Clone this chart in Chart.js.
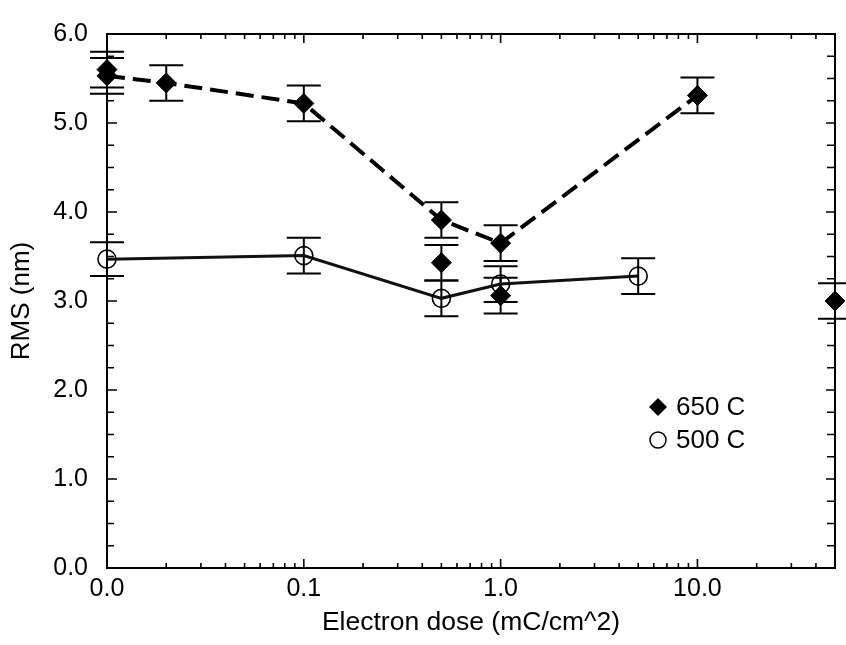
<!DOCTYPE html>
<html lang="en">
<head>
    <meta charset="UTF-8">
    <title>RMS vs electron dose</title>
    <script src="https://cdn.jsdelivr.net/npm/chart.js"></script>
    <style>
        body {
            margin: 0;
            background-color: #ffffff;
        }
        #wrap {
            width: 846px;
            height: 645px;
        }
    </style>
</head>
<body>
    <div id="wrap">
        <canvas id="rms-chart" width="846" height="645"></canvas>
    </div>
    <script>
        // 650 C series joined by the dashed line
        const doses650 = [0.01, 0.02, 0.1, 0.5, 1.0, 10];
        const rms650 = [5.53, 5.45, 5.22, 3.91, 3.65, 5.31];
        const err650 = [0.2, 0.2, 0.2, 0.2, 0.2, 0.2];

        // extra 650 C measurements, not on the line
        const dosesExtra650 = [0.01, 0.5, 1.0, 50];
        const rmsExtra650 = [5.60, 3.43, 3.06, 3.00];
        const errExtra650 = [0.2, 0.2, 0.2, 0.2];

        // 500 C series, solid line
        const doses500 = [0.01, 0.1, 0.5, 1.0, 5.0];
        const rms500 = [3.47, 3.51, 3.03, 3.19, 3.28];
        const err500 = [0.19, 0.2, 0.2, 0.2, 0.2];

        const xTicks = [0.01, 0.1, 1, 10];
        const legendLabels = ['650 C', '500 C'];

        const FONT = "'Liberation Sans', Arial, Helvetica, sans-serif";

        function toPoints(xs, ys) {
            return xs.map((x, i) => ({ x: x, y: ys[i] }));
        }

        // error bars with caps, drawn under the markers
        const errorBars = {
            id: 'errorBars',
            beforeDatasetsDraw(chart) {
                const ctx = chart.ctx;
                const xs = chart.scales.x;
                const ys = chart.scales.y;
                ctx.save();
                ctx.strokeStyle = '#000';
                ctx.lineWidth = 2;
                chart.data.datasets.forEach(ds => {
                    ds.data.forEach((p, i) => {
                        const e = ds.errors[i];
                        const px = xs.getPixelForValue(p.x);
                        const top = ys.getPixelForValue(p.y + e);
                        const bot = ys.getPixelForValue(p.y - e);
                        ctx.beginPath();
                        ctx.moveTo(px, top);
                        ctx.lineTo(px, bot);
                        ctx.moveTo(px - 17, top);
                        ctx.lineTo(px + 17, top);
                        ctx.moveTo(px - 17, bot);
                        ctx.lineTo(px + 17, bot);
                        ctx.stroke();
                    });
                });
                ctx.restore();
            }
        };

        // frame with inward ticks on all four sides
        const frame = {
            id: 'frame',
            beforeDatasetsDraw(chart) {
                const ctx = chart.ctx;
                const a = chart.chartArea;
                const xs = chart.scales.x;
                const ys = chart.scales.y;
                ctx.save();
                ctx.strokeStyle = '#000';
                ctx.lineWidth = 2;
                ctx.strokeRect(a.left, a.top, a.right - a.left, a.bottom - a.top);
                ctx.beginPath();
                // x ticks
                xTicks.forEach(d => {
                    for (let m = 1; m <= 9; m++) {
                        const v = d * m;
                        if (v > 50.001) break;
                        const px = xs.getPixelForValue(v);
                        const len = m === 1 ? 9 : 5;
                        ctx.moveTo(px, a.bottom);
                        ctx.lineTo(px, a.bottom - len);
                        ctx.moveTo(px, a.top);
                        ctx.lineTo(px, a.top + len);
                    }
                });
                // y ticks
                for (let v = 0; v <= 6.001; v += 0.25) {
                    const py = ys.getPixelForValue(v);
                    const major = Math.abs(v - Math.round(v)) < 0.01;
                    const len = major ? 10 : 7;
                    ctx.moveTo(a.left, py);
                    ctx.lineTo(a.left + len, py);
                    ctx.moveTo(a.right, py);
                    ctx.lineTo(a.right - (major ? 9 : 8), py);
                }
                ctx.lineWidth = 1.6;
                ctx.stroke();
                ctx.restore();
            }
        };

        // legend inside the plot
        const insideLegend = {
            id: 'insideLegend',
            afterDraw(chart) {
                const ctx = chart.ctx;
                ctx.save();
                ctx.fillStyle = '#000';
                ctx.strokeStyle = '#000';
                // diamond
                const dx = 658, dy = 407;
                ctx.beginPath();
                ctx.moveTo(dx, dy - 9);
                ctx.lineTo(dx + 9, dy);
                ctx.lineTo(dx, dy + 9);
                ctx.lineTo(dx - 9, dy);
                ctx.closePath();
                ctx.fill();
                // open circle
                ctx.lineWidth = 1.5;
                ctx.beginPath();
                ctx.arc(658, 440, 8, 0, Math.PI * 2);
                ctx.stroke();
                ctx.font = '26px ' + FONT;
                ctx.textBaseline = 'middle';
                ctx.textAlign = 'left';
                ctx.fillText(legendLabels[0], 676, dy + 1);
                ctx.fillText(legendLabels[1], 676, 441);
                ctx.restore();
            }
        };

        const ctx = document.getElementById('rms-chart').getContext('2d');
        const rmsChart = new Chart(ctx, {
            type: 'scatter',
            data: {
                datasets: [{
                    label: legendLabels[0],
                    data: toPoints(doses650, rms650),
                    errors: err650,
                    showLine: true,
                    borderColor: '#000',
                    borderWidth: 4,
                    borderDash: [18, 8],
                    pointStyle: 'rectRot',
                    pointRadius: 10,
                    pointBackgroundColor: '#000',
                    pointBorderColor: '#000',
                    pointBorderWidth: 1,
                    clip: false
                }, {
                    label: legendLabels[0] + ' extra',
                    data: toPoints(dosesExtra650, rmsExtra650),
                    errors: errExtra650,
                    showLine: false,
                    pointStyle: 'rectRot',
                    pointRadius: 10,
                    pointBackgroundColor: '#000',
                    pointBorderColor: '#000',
                    pointBorderWidth: 1,
                    clip: false
                }, {
                    label: legendLabels[1],
                    data: toPoints(doses500, rms500),
                    errors: err500,
                    showLine: true,
                    borderColor: '#111',
                    borderWidth: 3,
                    pointStyle: 'circle',
                    pointRadius: 9,
                    pointBackgroundColor: 'rgba(0,0,0,0)',
                    pointBorderColor: '#000',
                    pointBorderWidth: 1.6,
                    clip: false
                }]
            },
            options: {
                responsive: false,
                animation: false,
                devicePixelRatio: 1,
                layout: {
                    padding: { top: 17, right: 11, left: 0, bottom: 0 }
                },
                plugins: {
                    legend: { display: false },
                    tooltip: { enabled: false }
                },
                scales: {
                    x: {
                        type: 'logarithmic',
                        min: 0.01,
                        max: 50,
                        grid: { display: false, drawTicks: false },
                        border: { display: false },
                        afterBuildTicks: scale => {
                            scale.ticks = xTicks.map(v => ({ value: v }));
                        },
                        afterFit: scale => {
                            scale.height = 77;
                        },
                        ticks: {
                            autoSkip: false,
                            maxRotation: 0,
                            padding: 6,
                            color: '#000',
                            font: { family: FONT, size: 25 },
                            callback: v => Number(v).toFixed(1)
                        },
                        title: {
                            display: true,
                            text: 'Electron dose (mC/cm^2)',
                            color: '#000',
                            font: { family: FONT, size: 26.5 },
                            padding: { top: 0, bottom: 6 }
                        }
                    },
                    y: {
                        min: 0,
                        max: 6,
                        grid: { display: false, drawTicks: false },
                        border: { display: false },
                        afterFit: scale => {
                            scale.width = 107;
                        },
                        ticks: {
                            stepSize: 1,
                            padding: 19,
                            color: '#000',
                            font: { family: FONT, size: 25 },
                            callback: v => Number(v).toFixed(1)
                        },
                        title: {
                            display: true,
                            text: 'RMS (nm)',
                            color: '#000',
                            font: { family: FONT, size: 26 },
                            padding: { top: 6, bottom: 0 }
                        }
                    }
                }
            },
            plugins: [frame, errorBars, insideLegend]
        });
    </script>
</body>
</html>
